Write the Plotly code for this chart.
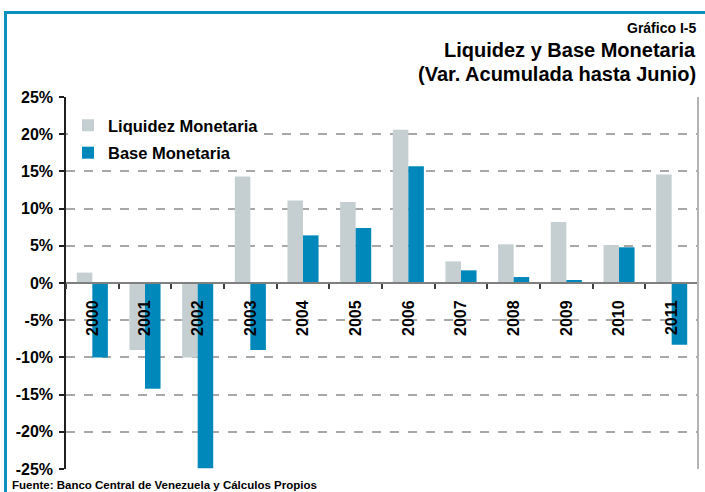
import plotly.graph_objects as go

years = ["2000", "2001", "2002", "2003", "2004", "2005", "2006", "2007", "2008", "2009", "2010", "2011"]
liquidez = [1.4, -9.0, -10.0, 14.3, 11.1, 10.9, 20.6, 2.9, 5.2, 8.2, 5.1, 14.6]
base = [-10.0, -14.2, -24.9, -9.0, 6.4, 7.4, 15.7, 1.7, 0.8, 0.4, 4.8, -8.3]
y_ticks = [-25, -20, -15, -10, -5, 0, 5, 10, 15, 20, 25]
y_tick_text = [f"{v}%" for v in y_ticks]

GRAY = "#C5CFD1"
BLUE = "#0088BB"
FRAME = "#0E8FC2"
FONT = "Liberation Sans, Arial, sans-serif"

fig = go.Figure()
fig.add_trace(go.Bar(x=years, y=liquidez, name="Liquidez Monetaria",
                     marker=dict(color=GRAY, line=dict(width=0)), legendgroup="a"))
fig.add_trace(go.Bar(x=years, y=base, name="Base Monetaria",
                     marker=dict(color=BLUE, line=dict(width=0)), legendgroup="b"))

L, R, T, B = 66, 7, 97, 23
W, H = 705, 492
pw, ph = W - L - R, H - T - B

def px(xp):
    return (xp - L) / pw

def py(yp):
    return (H - B - yp) / ph

fig.update_layout(
    width=W, height=H,
    margin=dict(l=L, r=R, t=T, b=B),
    paper_bgcolor="white", plot_bgcolor="white",
    barmode="group", bargap=0.41, bargroupgap=0.0,
    font=dict(family=FONT, color="black", size=16, weight="bold"),
    showlegend=True,
    legend=dict(x=px(68), y=py(108), xanchor="left", yanchor="top",
                bgcolor="white", traceorder="grouped", tracegroupgap=3,
                font=dict(size=16.5, family=FONT, color="black", weight="bold")),
    xaxis=dict(type="category", tickson="boundaries", anchor="free", position=0.5,
               showline=True, linecolor="#7F7F7F", linewidth=2,
               ticks="outside", ticklen=5, tickwidth=1.5, tickcolor="#404040",
               tickangle=-90, showgrid=False, ticklabelstandoff=10,
               tickfont=dict(size=16, family=FONT, color="black", weight="bold")),
    yaxis=dict(range=[-25, 25], tickvals=y_ticks, ticktext=y_tick_text,
               showline=True, linecolor="#202020", linewidth=1.5,
               ticks="outside", ticklen=5, tickwidth=1.5, tickcolor="#202020",
               showgrid=True, gridcolor="#A8A8A8", gridwidth=1.5, griddash="dash",
               zeroline=False, ticklabelstandoff=3,
               tickfont=dict(size=16, family=FONT, color="black", weight="bold")),
)

# right border of plot area
fig.add_shape(type="line", xref="paper", yref="paper", x0=1, x1=1, y0=0, y1=1,
              line=dict(color="#B4B4B4", width=2))
# blue frame (top and left)
fig.add_shape(type="line", xref="paper", yref="paper", x0=px(5.5), x1=px(705), y0=py(12.5), y1=py(12.5),
              line=dict(color=FRAME, width=3))
fig.add_shape(type="line", xref="paper", yref="paper", x0=px(5.5), x1=px(5.5), y0=py(11), y1=py(492),
              line=dict(color=FRAME, width=3))

fig.add_annotation(text="Gráfico I-5", xref="paper", yref="paper", x=px(698), y=py(28),
                   xanchor="right", yanchor="middle", showarrow=False,
                   font=dict(size=14, family=FONT, color="black", weight="bold"))
fig.add_annotation(text="Liquidez y Base Monetaria", xref="paper", yref="paper", x=px(698), y=py(50),
                   xanchor="right", yanchor="middle", showarrow=False,
                   font=dict(size=20, family=FONT, color="black", weight="bold"))
fig.add_annotation(text="(Var. Acumulada hasta Junio)", xref="paper", yref="paper", x=px(698), y=py(74),
                   xanchor="right", yanchor="middle", showarrow=False,
                   font=dict(size=20, family=FONT, color="black", weight="bold"))
fig.add_annotation(text="Fuente: Banco Central de Venezuela y Cálculos Propios", xref="paper", yref="paper",
                   x=px(10), y=py(485), xanchor="left", yanchor="middle", showarrow=False,
                   font=dict(size=11.5, family=FONT, color="black", weight="bold"))

fig.write_html("out.html", config={"displayModeBar": False},
               post_script="document.body.style.margin='0';document.body.style.overflow='hidden';")
